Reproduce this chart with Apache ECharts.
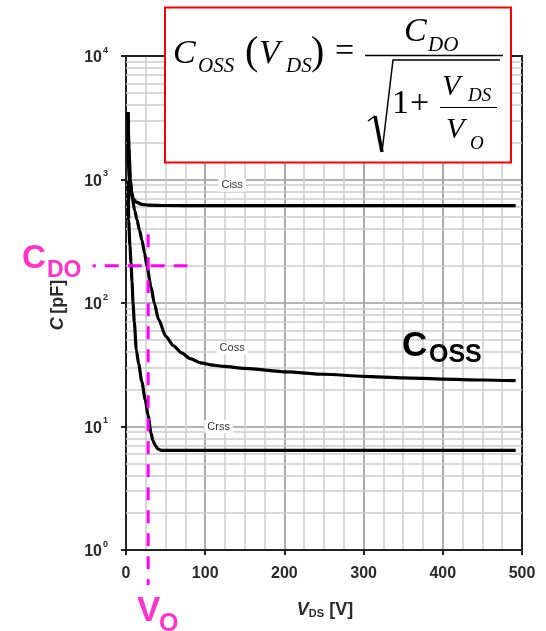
<!DOCTYPE html>
<html>
<head>
<meta charset="utf-8">
<script src="https://cdn.jsdelivr.net/npm/echarts@6/dist/echarts.min.js"></script>
<style>
  html, body { margin: 0; padding: 0; background: #fff; }
  #chart { width: 546px; height: 631px; }
</style>
</head>
<body>
<div id="chart"></div>
<script>
// Capacitance vs drain-source voltage, [V_DS (V), C (pF)]
const cissData = [
  [2.5, 3500], [4, 1600], [5.5, 1000], [7, 800], [9.2, 700], [13, 655],
  [20, 630], [28, 620], [50, 616], [100, 615], [200, 615], [300, 615],
  [400, 615], [492, 615]
];
const cossData = [
  [2.5, 3500], [3.5, 1800], [5, 1000], [8, 700], [11, 560], [13.9, 472],
  [17, 390], [20, 325], [23.5, 252], [26.5, 198], [31.5, 136], [35.7, 100],
  [41, 74], [50, 54], [60, 45], [70, 39.5], [81, 35.5], [94, 32.8], [110, 31.4],
  [123, 30.7], [150, 29.6], [203, 27.7], [250, 26.5], [300, 25.5], [350, 24.8],
  [400, 24.2], [450, 23.8], [492, 23.5]
];
const crssData = [
  [2.5, 3500], [2.9, 1000], [3.3, 470], [5, 290], [6.3, 212], [7.6, 150],
  [8.9, 100], [10.5, 70], [13, 42], [16, 32], [20, 23], [24.3, 16.5],
  [28, 12.2], [31.5, 8.9], [34, 7.7], [37, 7.0], [40, 6.6], [45, 6.4],
  [100, 6.4], [200, 6.4], [300, 6.4], [400, 6.4], [492, 6.4]
];

// Curve name tags, placed in data coordinates [V, pF]
const curveTags = [
  { name: 'Ciss', at: [134, 900] },
  { name: 'Coss', at: [134, 43] },
  { name: 'Crss', at: [117, 10] }
];

// Axis ticks
const xTicks = [0, 100, 200, 300, 400, 500];
const yDecades = [1, 10, 100, 1000, 10000];
const yMinorMultipliers = [2, 3, 4, 5, 6, 7, 8, 9];

// Model parameters marked on the chart
const vO = 28;     // V
const cDO = 200;   // pF
const cdoGuideV = [-42, 77.5];    // horizontal guide span (V)
const voGuideC = [360, 0.52];     // vertical guide span (pF)

const SANS = '"Liberation Sans", Arial, sans-serif';
const SERIF = '"Liberation Serif", "Times New Roman", serif';
const PINK = '#ff33cc';
const LABEL = '#2a2a2a';

const yMinorLines = [];
yDecades.slice(0, -1).forEach(d => {
  yMinorMultipliers.forEach(m => yMinorLines.push({ yAxis: d * m }));
});

function curve(name, data) {
  const tag = curveTags.find(t => t.name === name);
  return {
    name, type: 'line', data,
    xAxisIndex: 1, yAxisIndex: 0,
    showSymbol: false, symbol: 'none',
    smooth: 0.25, smoothMonotone: 'x',
    lineStyle: { color: '#000', width: 3.2 },
    z: 3,
    markPoint: {
      symbol: 'rect', symbolSize: 0, silent: true, z: 6,
      data: [{ coord: tag.at }],
      label: {
        show: true, position: 'inside', formatter: tag.name,
        backgroundColor: '#fff', padding: [1, 3],
        fontFamily: SANS, fontSize: 11, color: '#333'
      }
    }
  };
}

const chart = echarts.init(document.getElementById('chart'), null, { renderer: 'canvas' });

const option = {
  animation: false,
  backgroundColor: '#fff',
  grid: { left: 126, right: 24, top: 56, bottom: 81 },
  xAxis: [
    { // 25 V minor grid
      type: 'value', min: 0, max: 500, interval: 25,
      axisLine: { show: false }, axisTick: { show: false }, axisLabel: { show: false },
      splitLine: { show: true, lineStyle: { color: '#cdcdcd', width: 1.5 } }
    },
    { // 100 V major grid, labels
      type: 'value', min: 0, max: 500, interval: 100, position: 'bottom',
      axisLine: { show: true, onZero: false, lineStyle: { color: '#222', width: 2 } },
      axisTick: { show: true, inside: false, length: 5, lineStyle: { color: '#222', width: 2 } },
      axisLabel: {
        margin: 16, fontFamily: SANS, fontSize: 16, fontWeight: 'bold', color: LABEL,
        formatter: v => (xTicks.includes(v) ? String(v) : '')
      },
      splitLine: { show: true, lineStyle: { color: '#9a9a9a', width: 1.5 } }
    },
    { // top frame
      type: 'value', min: 0, max: 500, position: 'top',
      axisLine: { show: true, onZero: false, lineStyle: { color: '#222', width: 2 } },
      axisTick: { show: false }, axisLabel: { show: false }, splitLine: { show: false }
    }
  ],
  yAxis: [
    {
      type: 'log', logBase: 10, min: 1, max: 10000, splitNumber: 4,
      axisLine: { show: true, onZero: false, lineStyle: { color: '#222', width: 2 } },
      axisTick: { show: true, inside: false, length: 5, lineStyle: { color: '#222', width: 2 } },
      axisLabel: {
        margin: 18,
        formatter: v => '{b|10}{s|' + Math.round(Math.log10(v)) + '}',
        rich: {
          b: { fontFamily: SANS, fontSize: 16, fontWeight: 'bold', color: LABEL, lineHeight: 20, verticalAlign: 'bottom' },
          s: { fontFamily: SANS, fontSize: 9, fontWeight: 'bold', color: LABEL, lineHeight: 20, verticalAlign: 'top', padding: [0, 0, 0, 1] }
        }
      },
      splitLine: { show: true, lineStyle: { color: '#9a9a9a', width: 1.5 } }
    },
    { // right frame
      type: 'log', logBase: 10, min: 1, max: 10000, position: 'right',
      axisLine: { show: true, onZero: false, lineStyle: { color: '#222', width: 2 } },
      axisTick: { show: false }, axisLabel: { show: false }, splitLine: { show: false }
    }
  ],
  series: [
    { // minor log grid lines at 2..9 of each decade
      type: 'line', xAxisIndex: 1, yAxisIndex: 0, data: [[0, 1]],
      showSymbol: false, symbol: 'none', lineStyle: { opacity: 0 }, z: 1,
      markLine: {
        silent: true, symbol: 'none', animation: false, z: 1,
        label: { show: false },
        lineStyle: { color: '#cdcdcd', width: 1.5, type: 'solid' },
        data: yMinorLines
      }
    },
    curve('Ciss', cissData),
    curve('Coss', cossData),
    curve('Crss', crssData)
  ]
};

chart.setOption(option);

// Guide lines for V_O and C_DO, positioned through the chart's own axes
const toPx = p => chart.convertToPixel({ xAxisIndex: 1, yAxisIndex: 0 }, p);
const hA = toPx([cdoGuideV[0], cDO]), hB = toPx([cdoGuideV[1], cDO]);
const vA = toPx([vO, voGuideC[0]]), vB = toPx([vO, voGuideC[1]]);

const Z = 100;
const ft = (x, y, text, font, fill) => ({
  type: 'text', z: Z,
  style: { x, y, verticalAlign: 'middle', text, font, fill: fill || '#000' }
});

chart.setOption({
  graphic: [
    {
      type: 'line', z: 50,
      shape: { x1: hA[0], y1: hA[1], x2: hB[0], y2: hB[1] },
      style: { stroke: '#ff00ff', lineWidth: 3, lineDash: [14, 9], lineDashOffset: 11 }
    },
    {
      type: 'line', z: 50,
      shape: { x1: vA[0], y1: vA[1], x2: vB[0], y2: vB[1] },
      style: { stroke: '#ff00ff', lineWidth: 3, lineDash: [13, 10] }
    },
    // axis titles
    {
      type: 'text', z: 10,
      style: {
        x: 325, y: 608, align: 'center', verticalAlign: 'middle',
        text: '{v|V}{s|DS}{n| [V]}',
        rich: {
          v: { fontFamily: SANS, fontSize: 18, fontWeight: 'bold', fontStyle: 'italic', fill: LABEL, verticalAlign: 'bottom', lineHeight: 22 },
          s: { fontFamily: SANS, fontSize: 11, fontWeight: 'bold', fill: LABEL, verticalAlign: 'bottom', lineHeight: 19 },
          n: { fontFamily: SANS, fontSize: 18, fontWeight: 'bold', fill: LABEL, verticalAlign: 'bottom', lineHeight: 22 }
        }
      }
    },
    {
      type: 'text', z: 10, x: 58, y: 305, rotation: Math.PI / 2,
      style: {
        x: 0, y: 0, align: 'center', verticalAlign: 'middle',
        text: '{c|C} {n|[pF]}',
        rich: {
          c: { fontFamily: SANS, fontSize: 18, fontWeight: 'bold', fontStyle: 'italic', fill: LABEL },
          n: { fontFamily: SANS, fontSize: 18, fontWeight: 'bold', fill: LABEL }
        }
      }
    },
    // C_DO and V_O captions
    ft(22, 259, 'C', 'bold 33px ' + SANS, PINK),
    ft(47, 271, 'DO', 'bold 23px ' + SANS, PINK),
    ft(137, 611, 'V', 'bold 35px ' + SANS, PINK),
    ft(159, 624, 'O', 'bold 25px ' + SANS, PINK),
    // C_OSS caption
    ft(402, 346, 'C', 'bold 35px ' + SANS),
    ft(429, 355, 'OSS', 'bold 25px ' + SANS),
    // Formula box
    { type: 'rect', z: Z - 1, shape: { x: 165, y: 7.5, width: 346, height: 155 },
      style: { fill: '#fff', stroke: '#ff0000', lineWidth: 2 } },
    ft(173, 53.8, 'C', 'italic 34px ' + SERIF),
    ft(198, 66, 'OSS', 'italic 21px ' + SERIF),
    ft(245, 53, '(', '40px ' + SERIF),
    ft(259, 53.8, 'V', 'italic 34px ' + SERIF),
    ft(286, 66, 'DS', 'italic 21px ' + SERIF),
    ft(311, 53, ')', '40px ' + SERIF),
    ft(335, 52, '=', '34px ' + SERIF),
    { type: 'line', z: Z, shape: { x1: 365, y1: 55.5, x2: 503, y2: 55.5 }, style: { stroke: '#000', lineWidth: 1.5 } },
    ft(404, 31.8, 'C', 'italic 34px ' + SERIF),
    ft(428, 45, 'DO', 'italic 21px ' + SERIF),
    { type: 'polyline', z: Z, shape: { points: [[368, 121], [375, 116]] }, style: { stroke: '#000', lineWidth: 1.5, fill: null } },
    { type: 'polyline', z: Z, shape: { points: [[375, 116], [382, 152]] }, style: { stroke: '#000', lineWidth: 3.5, fill: null } },
    { type: 'polyline', z: Z, shape: { points: [[382, 152], [393, 60], [500, 60]] }, style: { stroke: '#000', lineWidth: 1.5, fill: null } },
    ft(392, 103.8, '1', '34px ' + SERIF),
    ft(410, 103.8, '+', '34px ' + SERIF),
    { type: 'line', z: Z, shape: { x1: 440, y1: 107.5, x2: 497, y2: 107.5 }, style: { stroke: '#000', lineWidth: 1.2 } },
    ft(442, 87, 'V', 'italic 30px ' + SERIF),
    ft(468, 95.7, 'DS', 'italic 19px ' + SERIF),
    ft(446, 130, 'V', 'italic 30px ' + SERIF),
    ft(470, 143.7, 'O', 'italic 19px ' + SERIF)
  ]
});
</script>
</body>
</html>
